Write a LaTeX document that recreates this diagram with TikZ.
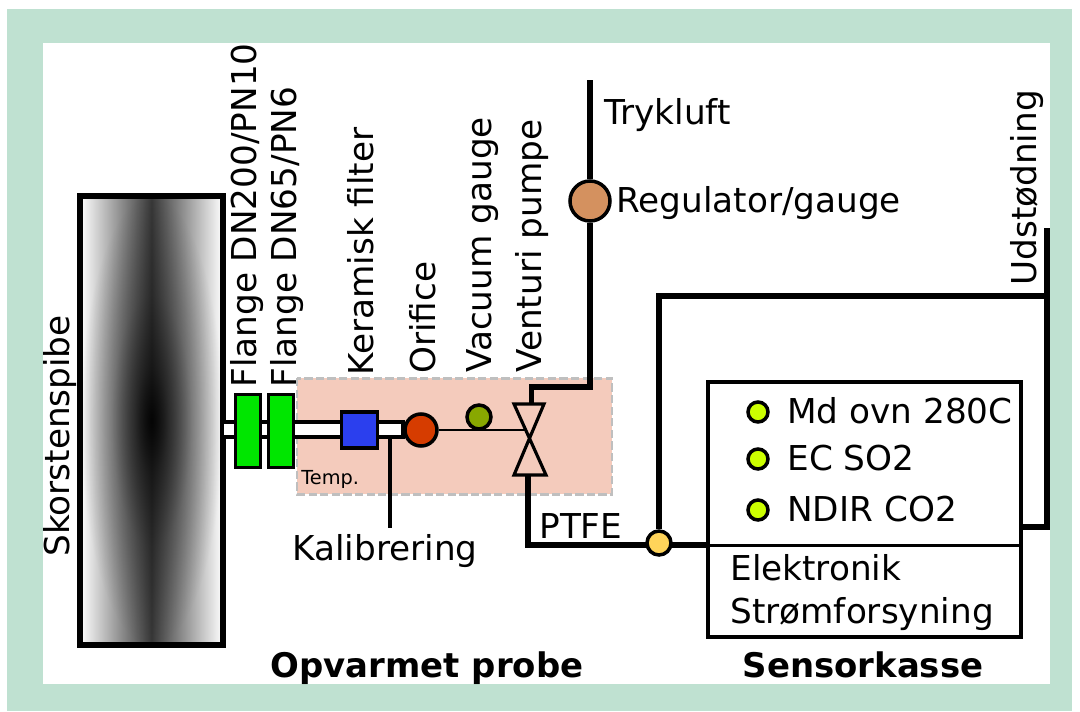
\documentclass[tikz,border=0pt]{standalone}
\usepackage{fontspec}
\setmainfont{DejaVu Sans}
\usetikzlibrary{shapes.geometric, fadings, positioning}
\definecolor{framegreen}{HTML}{BFE1D1}
\definecolor{hotzone}{HTML}{F4CBBC}
\definecolor{flangegreen}{HTML}{00E600}
\definecolor{filterblue}{HTML}{2B3FEE}
\definecolor{orificered}{HTML}{D63C00}
\definecolor{gaugegreen}{HTML}{88A800}
\definecolor{regbrown}{HTML}{D4915F}
\definecolor{sensorlime}{HTML}{CCFF00}
\definecolor{teeyellow}{HTML}{FFD45A}
\pgfdeclareradialshading{stackglow}{\pgfpoint{0bp}{0bp}}{color(0bp)=(white!92!black); color(6bp)=(white!58!black); color(14bp)=(white!26!black); color(25bp)=(black); color(50bp)=(black)}
\pgfdeclarefading{stackfade}{\pgfuseshading{stackglow}}
\tikzset{x=0.02cm, y=-0.02cm}
\tikzset{pipe/.style={line width=3pt}}
\tikzset{thin pipe/.style={line width=1.6pt}}
\tikzset{part/.style={draw=black, line width=2pt, inner sep=0pt, minimum size=#1*0.02cm}}
\tikzset{flange/.style={draw=black, line width=1.8pt, fill=flangegreen, minimum width=25*0.02cm, minimum height=73*0.02cm, inner sep=0pt}}
\tikzset{sensor/.style={circle, part=20, fill=sensorlime}}
\tikzset{lbl/.style={font=\fontsize{19.5pt}{24pt}\selectfont, inner sep=0pt, anchor=base west}}
\tikzset{vlbl/.style={lbl, rotate=90}}
\tikzset{head/.style={font=\fontsize{19.3pt}{24pt}\selectfont\bfseries, inner sep=0pt, anchor=base}}
\begin{document}
\begin{tikzpicture}
	\useasboundingbox (0,0) rectangle (1080,711);
	\fill[framegreen] (7,9) rectangle (1072,711);
	\fill[white] (43,43) rectangle (1050,684);

	% stack
	\shade[left color=white, right color=white, middle color=black!78] (80,196) rectangle (223,645);
	\fill[black, path fading=stackfade] (80,196) rectangle (223,645);
	\draw[black, line width=3.4pt] (80,196) rectangle (223,645);

	% heated zone
	\fill[hotzone] (297,378) rectangle (612,494);
	\draw[black!25, dash pattern=on 4.7pt off 1.9pt, line width=1.7pt] (297,378) rectangle (612,494);

	% probe
	\fill[white] (224,422) rectangle (403,437);
	\draw[line width=1.9pt] (224,422) -- (403,422) -- (403,437) -- (224,437);
	\node[flange] (fl1) at (248,431) {};
	\node[flange] (fl2) at (281,431) {};
	\node[part=36, fill=filterblue] (filter) at (359.5,430) {};
	\node[circle, part=32, fill=orificered] (orifice) at (421,430) {};
	\coordinate (venturi) at (526,430);
	\node[circle, part=24, fill=gaugegreen] (vacuum) at (479,417) {};
	\draw[thin pipe] (orifice) -- (venturi);

	% venturi
	\draw[line width=1.8pt, line join=miter] (514,404) -- (544,404) -- (514,475) -- (546,475) -- cycle;

	% pipes
	\coordinate (air) at (590,80);
	\coordinate (airend) at (531.5,404);
	\coordinate (exh) at (1047,228);
	\node[circle, part=40, fill=regbrown] (reg) at (590,201) {};
	\draw[pipe] (air) -- (reg);
	\draw[pipe] (reg) -- (590,387) -- (531.5,387) -- (airend);
	\draw[pipe] (528,475) -- (528,545) -- (708,545);
	\node[circle, part=24, fill=teeyellow] (tee) at (659,543) {};
	\draw[pipe] (tee) -- (659,296) -- (1047,296);
	\draw[pipe] (exh) -- (1047,527) -- (1021,527);

	% sensor box
	\draw[line width=1.9pt, fill=white] (708,382) rectangle (1021,637);
	\draw[line width=1.9pt] (708,545.5) -- (1021,545.5);
	\node[sensor] (s1) at (758,412) {};
	\node[sensor] (s2) at (758,459) {};
	\node[sensor] (s3) at (758,510) {};

	% labels
	\node[lbl] at (787,423) {Md ovn 280C};
	\node[lbl] at (787,470) {EC SO2};
	\node[lbl] at (787,521) {NDIR CO2};
	\node[lbl] at (730,580) {Elektronik};
	\node[lbl] at (730,623) {Strømforsyning};
	\node[lbl] at (604,124) {Trykluft};
	\node[lbl] at (616,212) {Regulator/gauge};
	\node[lbl] at (539,538) {PTFE};
	\node[lbl] at (292,560) {Kalibrering};
	\node[lbl, font=\fontsize{11pt}{13pt}\selectfont] at (301,484) {Temp.};
	\coordinate (calib) at (390,528);
	\draw[line width=2pt] (390,437) -- (calib);
	\node[vlbl] at (256,388) {Flange DN200/PN10};
	\node[vlbl] at (296,388) {Flange DN65/PN6};
	\node[vlbl] at (373,376) {Keramisk filter};
	\node[vlbl] at (435,374) {Orifice};
	\node[vlbl] at (491,373) {Vacuum gauge};
	\node[vlbl] at (541,373) {Venturi pumpe};
	\node[vlbl] at (1036,286) {Udstødning};
	\node[vlbl] at (70,557) {Skorstenspibe};
	\node[head] at (427,677) {Opvarmet probe};
	\node[head] at (863,677) {Sensorkasse};
\end{tikzpicture}
\end{document}
